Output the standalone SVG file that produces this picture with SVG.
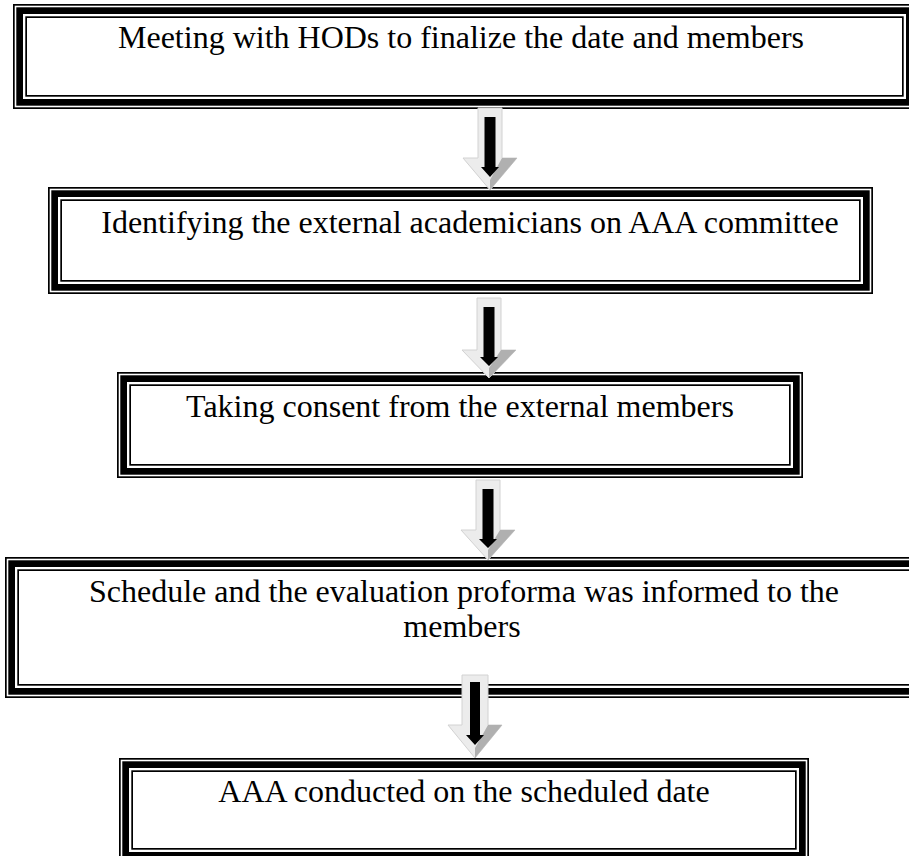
<svg xmlns="http://www.w3.org/2000/svg" width="909" height="856" viewBox="0 0 909 856">
<style>
.bg{fill:#fff}
.o{fill:none;stroke:#000;stroke-width:1.7}
.k{fill:none;stroke:#000;stroke-width:6.7}
.t{font-family:"Liberation Serif","Times New Roman",serif;font-size:32px;fill:#000;text-anchor:middle}
.ga{fill:#ececec;stroke:#d2d2d2;stroke-width:1}
.gs{fill:#b0b0b0}
.ba{fill:#000}
</style>
<rect class="bg" x="0" y="0" width="909" height="856"/>
<g id="node1">
<rect class="o" x="13.85" y="4.85" width="901.3" height="103.3"/>
<rect class="k" x="19.65" y="10.65" width="889.7" height="91.7"/>
<rect class="o" x="26.15" y="17.15" width="876.7" height="78.7"/>
<text class="t" x="461" y="48">Meeting with HODs to finalize the date and members</text>
</g>
<g id="node2">
<rect class="o" x="48.85" y="187.85" width="823.3" height="105.3"/>
<rect class="k" x="54.65" y="193.65" width="811.7" height="93.7"/>
<rect class="o" x="61.15" y="200.15" width="798.7" height="80.7"/>
<text class="t" x="470" y="233">Identifying the external academicians on AAA committee</text>
</g>
<g id="node3">
<rect class="o" x="117.85" y="372.85" width="684.3" height="104.3"/>
<rect class="k" x="123.65" y="378.65" width="672.7" height="92.7"/>
<rect class="o" x="130.15" y="385.15" width="659.7" height="79.7"/>
<text class="t" x="460" y="417">Taking consent from the external members</text>
</g>
<g id="node4">
<rect class="o" x="5.85" y="557.85" width="918.3" height="139.3"/>
<rect class="k" x="11.65" y="563.65" width="906.7" height="127.7"/>
<rect class="o" x="18.15" y="570.15" width="893.7" height="114.7"/>
<text class="t" x="464" y="602">Schedule and the evaluation proforma was informed to the</text>
<text class="t" x="462" y="637">members</text>
</g>
<g id="node5">
<rect class="o" x="119.85" y="758.85" width="688.3" height="102.3"/>
<rect class="k" x="125.65" y="764.65" width="676.7" height="90.7"/>
<rect class="o" x="132.15" y="771.15" width="663.7" height="77.7"/>
<text class="t" x="464" y="802">AAA conducted on the scheduled date</text>
</g>
<g id="connectors">
<g id="a1">
<path class="ga" d="M478,108 H502 V158 H517 L490,190 L463,158 H478 Z"/>
<polygon class="gs" points="502,158 517,158 490,190 490,180"/>
<path class="ba" d="M484.5,117 H495.5 V167 H499 L490,177 L481,167 H484.5 Z"/>
</g>
<g id="a2">
<path class="ga" d="M477,298 H501 V350 H516 L489,378 L462,350 H477 Z"/>
<polygon class="gs" points="501,350 516,350 489,378 489,368"/>
<path class="ba" d="M483.5,307 H494.5 V357 H498 L489,366 L480,357 H483.5 Z"/>
</g>
<g id="a3">
<path class="ga" d="M476,480 H500 V530 H515 L488,560 L461,530 H476 Z"/>
<polygon class="gs" points="500,530 515,530 488,560 488,550"/>
<path class="ba" d="M482.5,489 H493.5 V539 H497 L488,548 L479,539 H482.5 Z"/>
</g>
<g id="a4">
<path class="ga" d="M462,675 H488 V725 H502 L475,758 L448,725 H462 Z"/>
<polygon class="gs" points="488,725 502,725 475,758 475,748"/>
<path class="ba" d="M470,682 H480 V735 H484 L475,745 L466,735 H470 Z"/>
</g>
</g>
</svg>
